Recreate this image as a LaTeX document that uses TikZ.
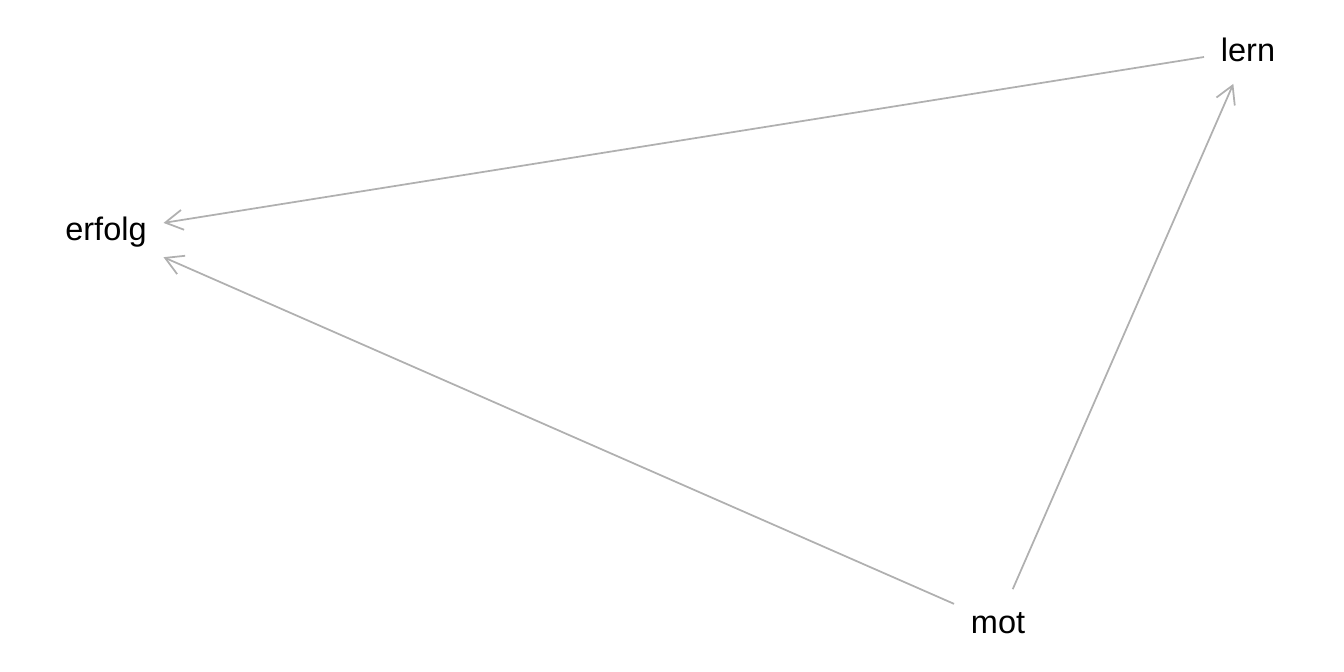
\documentclass[tikz,border=0pt]{standalone}
\usepackage{fontspec}
\setmainfont{Liberation Sans}
\usetikzlibrary{arrows.meta}

\definecolor{edgegray}{HTML}{B0B0B0}

\begin{document}
\begin{tikzpicture}[x=0.02cm, y=-0.02cm,
    var/.style={inner xsep=0.33cm, inner ysep=0pt, minimum height=1.34cm, font=\fontsize{18.5}{22}\selectfont},
    path/.style={draw=edgegray, line width=1pt, -{Straight Barb[length=0.35cm, width=0.4cm, line width=1pt]}}]
    \useasboundingbox (0, 0) rectangle (1344, 672);

    \node[var] (erfolg) at (106, 232) {erfolg};
    \node[var] (lern) at (1248, 50) {lern};
    \node[var] (mot) at (998, 623) {mot};

    \draw[path] (lern) -- (erfolg);
    \draw[path] (mot) -- (erfolg);
    \draw[path] (mot) -- (lern);
\end{tikzpicture}
\end{document}
